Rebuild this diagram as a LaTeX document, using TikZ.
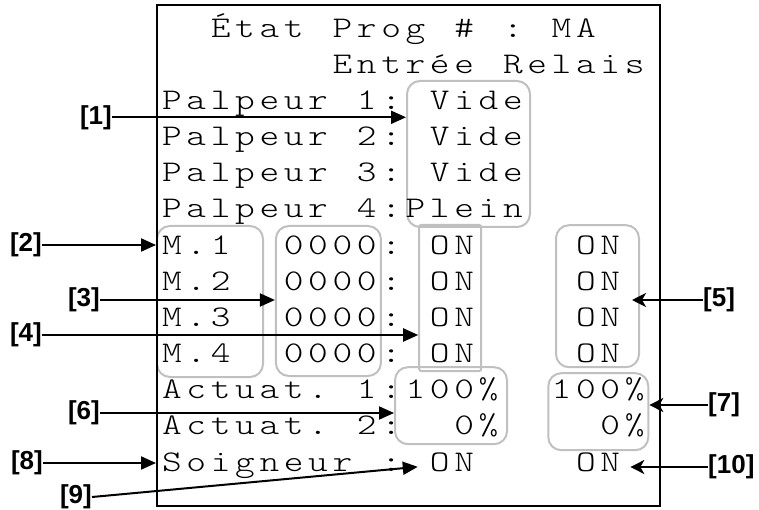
\documentclass[tikz,border=0pt]{standalone}
\usepackage{fontspec}
\usepackage{xcolor}
\usepackage{tikz}
\usetikzlibrary{arrows.meta}

\newfontfamily\lcdfont{lmmonolt10-regular.otf}[FakeStretch=1.25]
\newfontfamily\tagfont{Liberation Sans}
\definecolor{boxgray}{RGB}{192,192,192}

\tikzset{
	lcd/.style={inner sep=0pt, anchor=base, font=\lcdfont\fontsize{30}{30}\selectfont},
	gbox/.style={draw=boxgray, line width=2pt, rounded corners=13pt, inner sep=0pt},
	tag/.style={inner sep=0pt, font=\tagfont\bfseries\fontsize{26}{26}\selectfont},
	tip/.style={line width=2pt, -{Triangle[length=15pt,width=13pt]}},
	tipb/.style={line width=2pt, -{Stealth[length=14pt,width=14pt,inset=4pt]}},
}

% 一行字符：#1 行号, #2 起始列, #3 字符
\newcommand{\lcdrow}[3]{%
	\foreach \ch [count=\k from #2] in {#3}
		\node[lcd] (r#1c\k) at ({159.8+24.35*(\k+0.5)}, {37.2+36.15*#1}) {\ch};}

\begin{document}
\begin{tikzpicture}[x=1pt,y=-1pt]
		\useasboundingbox (0,0) rectangle (759,510);
		
		% 灰色圆角框
		\node[gbox, minimum width=123pt, minimum height=146pt] (vide) at (468.5,154) {};
		\node[gbox, minimum width=106pt, minimum height=151pt] (mbox) at (210,301.5) {};
		\node[gbox, minimum width=105pt, minimum height=150pt] (zero) at (328.4,301) {};
		\node[gbox, rounded corners=2pt, minimum width=62pt, minimum height=146pt] (on1) at (450.2,298) {};
		\node[gbox, minimum width=83pt, minimum height=142pt] (on2) at (597.5,296.2) {};
		\node[gbox, minimum width=112pt, minimum height=77pt] (pct1) at (451,405.7) {};
		\node[gbox, minimum width=100pt, minimum height=77pt] (pct2) at (598.3,411.7) {};
		
		% 屏幕文字
		\lcdrow{0}{2}{É,t,a,t}
		\lcdrow{0}{7}{P,r,o,g}
		\lcdrow{0}{12}{\#}
		\lcdrow{0}{14}{:}
		\lcdrow{0}{16}{M,A}
		\lcdrow{1}{7}{E,n,t,r,é,e}
		\lcdrow{1}{14}{R,e,l,a,i,s}
		\foreach \r/\n in {2/1,3/2,4/3,5/4} {
			\lcdrow{\r}{0}{P,a,l,p,e,u,r}
			\lcdrow{\r}{8}{\n,:}
		}
		\lcdrow{2}{11}{V,i,d,e}
		\lcdrow{3}{11}{V,i,d,e}
		\lcdrow{4}{11}{V,i,d,e}
		\lcdrow{5}{10}{P,l,e,i,n}
		\foreach \r/\n in {6/1,7/2,8/3,9/4} {
			\lcdrow{\r}{0}{M,.,\n}
			\lcdrow{\r}{5}{0,0,0,0,:}
			\lcdrow{\r}{11}{O,N}
			\lcdrow{\r}{17}{O,N}
		}
		\lcdrow{10}{0}{A,c,t,u,a,t,.}
		\lcdrow{10}{8}{1,:}
		\lcdrow{10}{10}{1,0,0,\%}
		\lcdrow{10}{16}{1,0,0,\%}
		\lcdrow{11}{0}{A,c,t,u,a,t,.}
		\lcdrow{11}{8}{2,:}
		\lcdrow{11}{12}{0,\%}
		\lcdrow{11}{18}{0,\%}
		\lcdrow{12}{0}{S,o,i,g,n,e,u,r}
		\lcdrow{12}{9}{:}
		\lcdrow{12}{11}{O,N}
		\lcdrow{12}{17}{O,N}
		
		% 外框
		\node[draw, line width=2pt, inner sep=0pt, minimum width=503pt, minimum height=501pt] (screen) at (408.5,255.5) {};
		
		% 标注
		\node[tag, anchor=east] (t1) at (112,117.3) {[1]};
		\node[tag, anchor=east] (t2) at (42,245) {[2]};
		\node[tag, anchor=east] (t3) at (100,300) {[3]};
		\node[tag, anchor=east] (t4) at (42,335) {[4]};
		\node[tag, anchor=west] (t5) at (703,300) {[5]};
		\node[tag, anchor=east] (t6) at (100,413) {[6]};
		\node[tag, anchor=west] (t7) at (708,405) {[7]};
		\node[tag, anchor=east] (t8) at (43,463) {[8]};
		\node[tag, anchor=east] (t9) at (92,497) {[9]};
		\node[tag, anchor=west] (t10) at (708,467) {[10]};
		
		% 箭头
		\draw[tip] (t1.east) -- (t1.east -| vide.west);
		\draw[tip] (t2.east) -- (t2.east -| screen.west);
		\draw[tip] (t3.east) -- (t3.east -| zero.west);
		\draw[tip] (t4.east) -- (t4.east -| on1.west);
		\draw[tipb, shorten >=-8pt] (t5.west) -- (t5.west -| on2.east);
		\draw[tip] (t6.east) -- (t6.east -| pct1.west);
		\draw[tipb] (t7.west) -- (t7.west -| pct2.east);
		\draw[tip] (t8.east) -- (t8.east -| screen.west);
		\draw[tip] (t9.east) -- ([shift={(-12pt,-5pt)}]r12c11.west);
		\draw[tipb, shorten >=10pt] (t10.west) -- (t10.west -| r12c18.east);
	\end{tikzpicture}
\end{document}
